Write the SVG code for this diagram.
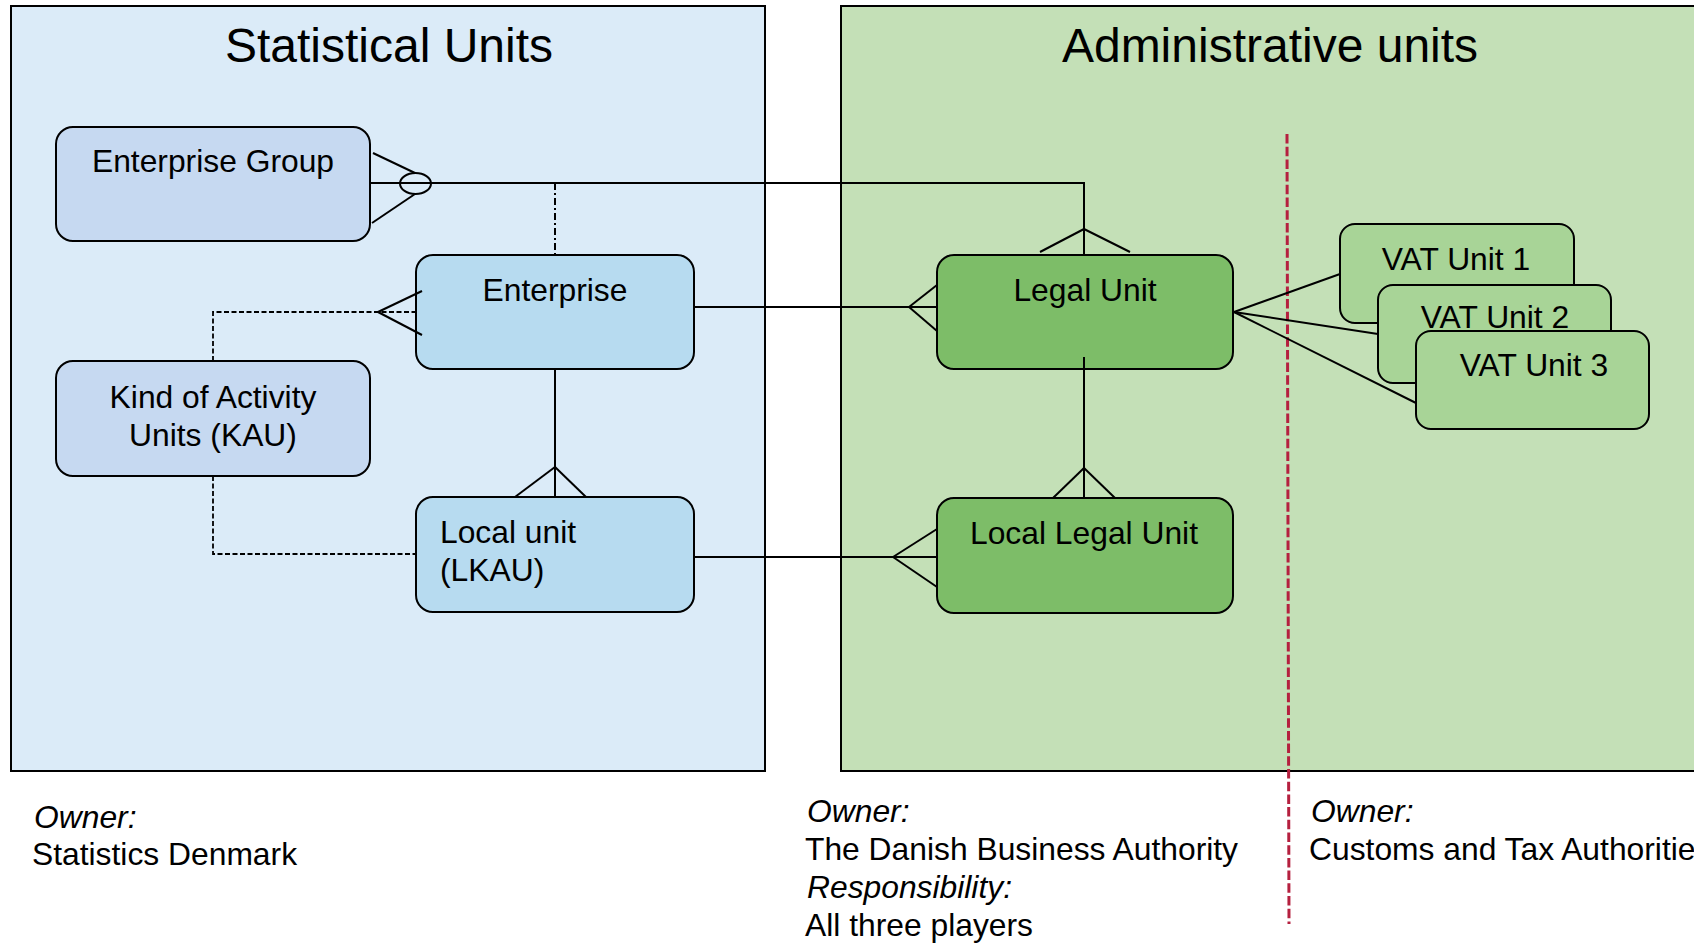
<svg xmlns="http://www.w3.org/2000/svg" width="1694" height="944" viewBox="0 0 1694 944">
  <style>
    text { font-family: "Liberation Sans", Arial, sans-serif; fill: #000; }
    .title { font-size: 48px; text-anchor: middle; }
    .lbl { font-size: 31.8px; }
    .mid { text-anchor: middle; }
    .it { font-style: italic; }
    .panel { stroke: #000; stroke-width: 2; }
    .node rect { stroke: #000; stroke-width: 2; }
    .grp { fill: #C6D9F1; }
    .ent { fill: #B7DBF0; }
    .legal { fill: #7DBD68; }
    .vat { fill: #A8D497; }
    .conn line, .conn polyline, .conn ellipse { stroke: #000; stroke-width: 2; fill: none; }
    .conn .dash { stroke-dasharray: 5 2.5; stroke-width: 1.8; }
    .conn .dashdot { stroke-dasharray: 7 3 2 3; }
    .divider { stroke: #B5203F; stroke-width: 3; stroke-dasharray: 9.5 3.2; fill: none; }
  </style>

  <rect width="1694" height="944" fill="#FFFFFF"/>

  <!-- Panels -->
  <g id="panel-statistical">
    <rect class="panel" x="11" y="6" width="754" height="765" fill="#DBEBF8"/>
    <text class="title" x="389" y="62">Statistical Units</text>
  </g>
  <g id="panel-administrative">
    <rect class="panel" x="841" y="6" width="900" height="765" fill="#C4E0B7"/>
    <text class="title" x="1270" y="62">Administrative units</text>
  </g>

  <!-- Ownership divider -->
  <line class="divider" x1="1287" y1="134" x2="1289" y2="924"/>

  <!-- Nodes -->
  <g id="enterprise-group" class="node">
    <rect class="grp" x="56" y="127" width="314" height="114" rx="17"/>
    <text class="lbl mid" x="213" y="172">Enterprise Group</text>
  </g>
  <g id="enterprise" class="node">
    <rect class="ent" x="416" y="255" width="278" height="114" rx="17"/>
    <text class="lbl mid" x="555" y="301">Enterprise</text>
  </g>
  <g id="kau" class="node">
    <rect class="grp" x="56" y="361" width="314" height="115" rx="17"/>
    <text class="lbl mid" x="213" y="408">Kind of Activity</text>
    <text class="lbl mid" x="213" y="446">Units (KAU)</text>
  </g>
  <g id="local-unit" class="node">
    <rect class="ent" x="416" y="497" width="278" height="115" rx="17"/>
    <text class="lbl" x="440" y="543">Local unit</text>
    <text class="lbl" x="440" y="581">(LKAU)</text>
  </g>
  <g id="legal-unit" class="node">
    <rect class="legal" x="937" y="255" width="296" height="114" rx="17"/>
    <text class="lbl mid" x="1085" y="301">Legal Unit</text>
  </g>
  <g id="local-legal-unit" class="node">
    <rect class="legal" x="937" y="498" width="296" height="115" rx="17"/>
    <text class="lbl mid" x="1084" y="544">Local Legal Unit</text>
  </g>
  <g id="vat-unit-1" class="node">
    <rect class="vat" x="1340" y="224" width="234" height="99" rx="15"/>
    <text class="lbl mid" x="1456" y="270">VAT Unit 1</text>
  </g>
  <g id="vat-unit-2" class="node">
    <rect class="vat" x="1378" y="285" width="233" height="98" rx="15"/>
    <text class="lbl mid" x="1495" y="328">VAT Unit 2</text>
  </g>
  <g id="vat-unit-3" class="node">
    <rect class="vat" x="1416" y="331" width="233" height="98" rx="15"/>
    <text class="lbl mid" x="1534" y="376">VAT Unit 3</text>
  </g>

  <!-- Connectors -->
  <g id="connectors" class="conn">
    <!-- Enterprise Group to Legal Unit (zero-or-many at group side) -->
    <polyline points="370,183 1084,183 1084,255"/>
    <ellipse cx="415.5" cy="183.5" rx="15.5" ry="10.5"/>
    <line x1="373" y1="153" x2="415" y2="173"/>
    <line x1="372" y1="223" x2="415" y2="194"/>
    <line x1="1040" y1="252" x2="1084" y2="229"/>
    <line x1="1130" y1="252" x2="1084" y2="229"/>
    <!-- Enterprise hangs from the group line -->
    <line class="dashdot" x1="555" y1="183" x2="555" y2="255"/>

    <!-- Enterprise to Legal Unit -->
    <line x1="694" y1="307" x2="937" y2="307"/>
    <line x1="909" y1="307" x2="937" y2="285"/>
    <line x1="909" y1="307" x2="937" y2="331"/>

    <!-- Enterprise to Local unit -->
    <line x1="555" y1="369" x2="555" y2="497"/>
    <line x1="555" y1="467" x2="515" y2="497"/>
    <line x1="555" y1="467" x2="586" y2="497"/>

    <!-- KAU to Enterprise -->
    <polyline class="dash" points="213,361 213,312 416,312"/>
    <line x1="378" y1="312" x2="422" y2="291"/>
    <line x1="378" y1="312" x2="422" y2="335"/>

    <!-- KAU to Local unit -->
    <polyline class="dash" points="213,476 213,554 416,554"/>

    <!-- Local unit to Local Legal Unit -->
    <line x1="694" y1="557" x2="937" y2="557"/>
    <line x1="893" y1="557" x2="937" y2="529"/>
    <line x1="893" y1="557" x2="937" y2="587"/>

    <!-- Legal Unit to Local Legal Unit -->
    <line x1="1084" y1="357" x2="1084" y2="498"/>
    <line x1="1084" y1="468" x2="1053" y2="498"/>
    <line x1="1084" y1="468" x2="1115" y2="498"/>

    <!-- Legal Unit to VAT units -->
    <line x1="1234" y1="312" x2="1340" y2="274"/>
    <line x1="1234" y1="312" x2="1378" y2="334"/>
    <line x1="1234" y1="312" x2="1416" y2="403"/>
  </g>

  <!-- Ownership notes -->
  <g id="notes">
    <text class="lbl it" x="34" y="828">Owner:</text>
    <text class="lbl" x="32" y="865">Statistics Denmark</text>

    <text class="lbl it" x="807" y="822">Owner:</text>
    <text class="lbl" x="805" y="860">The Danish Business Authority</text>
    <text class="lbl it" x="807" y="898">Responsibility:</text>
    <text class="lbl" x="805" y="936">All three players</text>

    <text class="lbl it" x="1311" y="822">Owner:</text>
    <text class="lbl" x="1309" y="860">Customs and Tax Authorities</text>
  </g>
</svg>
